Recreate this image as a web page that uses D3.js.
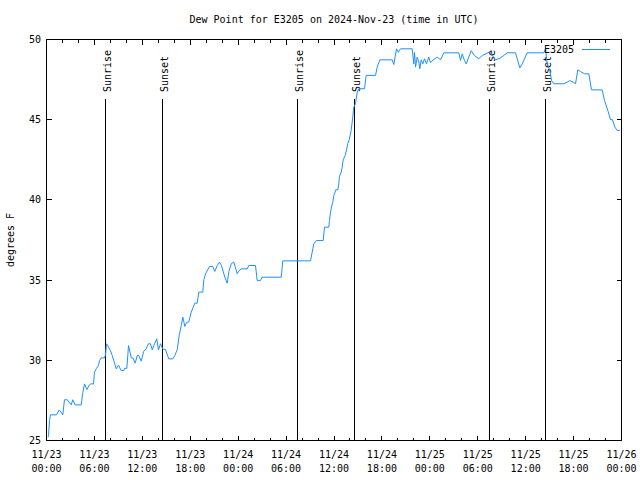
<!DOCTYPE html>
<html><head><meta charset="utf-8">
<script src="https://cdn.jsdelivr.net/npm/d3@7"></script>
<style>
body{margin:0;background:#fff;}
svg{display:block;}
text{font-family:"DejaVu Sans Mono",monospace;font-size:10px;fill:#000;}
</style></head><body>
<svg id="c" width="640" height="480"></svg>
<script>
const chartTitle = "Dew Point for E3205 on 2024-Nov-23 (time in UTC)";
const yAxisLabel = "degrees F";
const seriesName = "E3205";
const startTime = "2024-11-23T00:00:00Z";
const endTime = "2024-11-26T00:00:00Z";
const yTicks = [25, 30, 35, 40, 45, 50];

// hours since 2024-11-23 00:00 UTC
const hoursSinceStart = [
  0.19, 0.25, 0.38, 0.50, 1.25, 1.59, 1.84, 2.04, 2.25, 2.59, 3.09, 3.29, 3.59, 4.35, 4.55, 4.76,
  5.05, 5.30, 5.51, 5.89, 6.01, 6.22, 6.51, 6.64, 6.85, 7.26, 7.39, 7.51, 7.68, 8.01, 8.23, 8.73,
  9.02, 9.35, 9.68, 9.77, 10.06, 10.27, 10.61, 10.81, 11.11, 11.36, 11.56, 11.86, 12.18, 12.48,
  12.77, 13.02, 13.24, 13.52, 13.81, 14.02, 14.28, 14.56, 14.90, 15.31, 15.82, 16.07, 16.37,
  16.62, 16.87, 17.07, 17.32, 17.53, 17.82, 18.12, 18.37, 18.57, 18.87, 19.07, 19.57, 19.70,
  19.91, 20.20, 20.41, 20.82, 21.07, 21.38, 21.66, 21.91, 22.33, 22.63, 22.83, 23.13, 23.45,
  23.67, 23.88, 24.08, 24.38, 25.13, 25.33, 26.17, 26.38, 26.80, 27.01, 29.39, 29.59, 33.06,
  33.35, 33.47, 33.81, 34.65, 34.81, 35.35, 35.44, 35.56, 35.69, 35.85, 35.98, 36.23, 36.48,
  36.60, 36.69, 36.90, 37.03, 37.15, 37.40, 37.53, 37.73, 37.90, 38.15, 38.35, 38.48, 38.69,
  38.91, 39.11, 39.82, 40.03, 41.20, 41.41, 41.74, 43.29, 43.49, 43.83, 44.04, 44.33, 45.79,
  45.99, 46.08, 46.21, 46.42, 46.62, 46.74, 46.92, 47.12, 47.33, 47.58, 47.87, 48.08, 48.42,
  48.92, 49.34, 49.75, 51.63, 51.84, 52.05, 52.34, 52.55, 53.18, 53.59, 54.13, 54.56, 55.51,
  56.22, 56.85, 57.69, 58.73, 59.27, 59.57, 60.19, 62.27, 62.48, 62.70, 63.02, 63.24, 63.52,
  64.78, 65.20, 65.53, 65.95, 66.24, 66.53, 66.87, 67.37, 67.91, 68.24, 69.58, 69.87, 70.29,
  70.62, 70.87, 71.16, 71.46, 71.79
];
const dewPointF = [
  25.2, 25.3, 26.25, 26.6, 26.6, 26.9, 26.75, 26.6, 27.54, 27.54, 27.22, 27.54, 27.22, 27.22, 28.0, 28.53,
  28.18, 28.4, 28.53, 28.53, 29.26, 29.47, 29.68, 29.99, 30.15, 30.15, 30.34, 31.03, 30.9, 30.6, 30.3, 29.47,
  29.7, 29.36, 29.36, 29.5, 29.5, 30.92, 30.15, 30.15, 29.82, 30.3, 30.3, 29.95, 30.57, 30.72,
  31.03, 31.03, 30.65, 31.03, 31.34, 30.65, 31.03, 30.7, 30.67, 30.09, 30.09, 30.3, 30.67,
  31.55, 32.17, 32.69, 32.11, 32.35, 32.4, 33.0, 33.31, 33.56, 33.56, 34.25, 34.25, 35.02,
  35.39, 35.66, 35.85, 35.85, 35.54, 35.91, 36.12, 35.91, 35.18, 34.81, 35.52, 36.02, 36.12,
  35.76, 35.4, 35.56, 35.7, 35.7, 35.91, 35.91, 34.98, 34.98, 35.18, 35.18, 36.2, 36.2,
  36.95, 37.26, 37.47, 37.47, 38.3, 38.3, 38.72, 39.23, 39.55, 39.86, 40.27, 40.63, 40.63,
  41.0, 41.46, 41.73, 42.04, 42.5, 42.77, 43.04, 43.5, 43.75, 44.33, 45.16, 45.78, 46.0,
  46.72, 46.93, 46.93, 47.76, 47.76, 48.28, 48.73, 48.73, 48.44, 49.42, 49.2, 49.42, 49.42,
  48.48, 49.2, 48.28, 48.9, 48.6, 48.17, 48.73, 48.48, 48.8, 48.48, 48.9, 48.55, 48.73,
  48.9, 48.73, 49.17, 49.17, 48.69, 49.1, 48.69, 48.48, 49.3, 49.0, 48.8, 49.0, 49.23,
  48.73, 48.85, 49.17, 49.17, 48.23, 48.48, 49.17, 49.17, 49.42, 48.48, 48.07, 47.44, 47.24,
  47.24, 47.34, 47.44, 47.34, 47.24, 48.11, 48.0, 47.86, 47.86, 46.86, 46.86, 46.2, 45.57,
  45.0, 45.0, 44.54, 44.33, 44.33
];

const eventNames = ["Sunrise", "Sunset", "Sunrise", "Sunset", "Sunrise", "Sunset"];
const eventHours = [7.43, 14.56, 31.47, 38.60, 55.51, 62.52];

const svg = d3.select("#c");
const t0 = new Date(startTime), t1 = new Date(endTime);
const toDate = h => new Date(t0.getTime() + h * 3600e3);

const L = 46.5, R = 621.5, T = 39.5, B = 440.5;
const x = d3.scaleUtc().domain([t0, t1]).range([L, R]);
const y = d3.scaleLinear().domain([25, 50]).range([B, T]);

// frame
svg.append("rect").attr("x", L).attr("y", T).attr("width", R - L).attr("height", B - T)
  .attr("fill", "none").attr("stroke", "#000").attr("shape-rendering", "crispEdges");

// x ticks
const majorTicks = d3.utcHour.every(6).range(t0, new Date(t1.getTime() + 1));
const minorTicks = d3.utcHour.every(2).range(t0, new Date(t1.getTime() + 1)).filter(d => d.getUTCHours() % 6 !== 0);
const tg = svg.append("g").attr("stroke", "#000").attr("shape-rendering", "crispEdges");
majorTicks.forEach(d => {
  const px = Math.round(x(d) - 0.5) + 0.5;
  tg.append("line").attr("x1", px).attr("x2", px).attr("y1", B).attr("y2", B - 5);
  tg.append("line").attr("x1", px).attr("x2", px).attr("y1", T).attr("y2", T + 5);
});
minorTicks.forEach(d => {
  const px = Math.round(x(d) - 0.5) + 0.5;
  tg.append("line").attr("x1", px).attr("x2", px).attr("y1", B).attr("y2", B - 3);
  tg.append("line").attr("x1", px).attr("x2", px).attr("y1", T).attr("y2", T + 3);
});
const fmtDay = d3.utcFormat("%m/%d"), fmtTime = d3.utcFormat("%H:%M");
majorTicks.forEach(d => {
  const g = svg.append("text").attr("text-anchor", "middle");
  g.append("tspan").attr("x", x(d)).attr("y", 458).text(fmtDay(d));
  g.append("tspan").attr("x", x(d)).attr("y", 472).text(fmtTime(d));
});

// y ticks
yTicks.forEach(v => {
  const py = Math.round(y(v) - 0.5) + 0.5;
  tg.append("line").attr("x1", L).attr("x2", L + 5).attr("y1", py).attr("y2", py);
  tg.append("line").attr("x1", R).attr("x2", R - 5).attr("y1", py).attr("y2", py);
  svg.append("text").attr("x", 41).attr("y", py + 3.5).attr("text-anchor", "end").text(v);
});

// title & axis label
svg.append("text").attr("x", (L + R) / 2).attr("y", 23).attr("text-anchor", "middle").text(chartTitle);
svg.append("text").attr("transform", `translate(14,${(T + B) / 2}) rotate(-90)`)
  .attr("text-anchor", "middle").text(yAxisLabel);

// sunrise/sunset lines
eventHours.forEach((h, i) => {
  const px = Math.round(x(toDate(h)) - 0.5) + 0.5;
  svg.append("line").attr("x1", px).attr("x2", px).attr("y1", 99).attr("y2", B)
    .attr("stroke", "#000").attr("shape-rendering", "crispEdges");
  svg.append("text").attr("transform", `translate(${px + 5},92) rotate(-90)`)
    .attr("text-anchor", "start").text(eventNames[i]);
});

// data line
const data = hoursSinceStart.map((h, i) => ({ t: toDate(h), v: dewPointF[i] }));
svg.append("path").datum(data)
  .attr("fill", "none").attr("stroke", "#1e90ff").attr("stroke-width", 1)
  .attr("d", d3.line().x(d => x(d.t)).y(d => y(d.v)));

// legend
svg.append("text").attr("x", 574).attr("y", 53).attr("text-anchor", "end").text(seriesName);
svg.append("line").attr("x1", 582).attr("x2", 610).attr("y1", 49.5).attr("y2", 49.5)
  .attr("stroke", "#1e90ff").attr("shape-rendering", "crispEdges");
</script>
</body></html>
